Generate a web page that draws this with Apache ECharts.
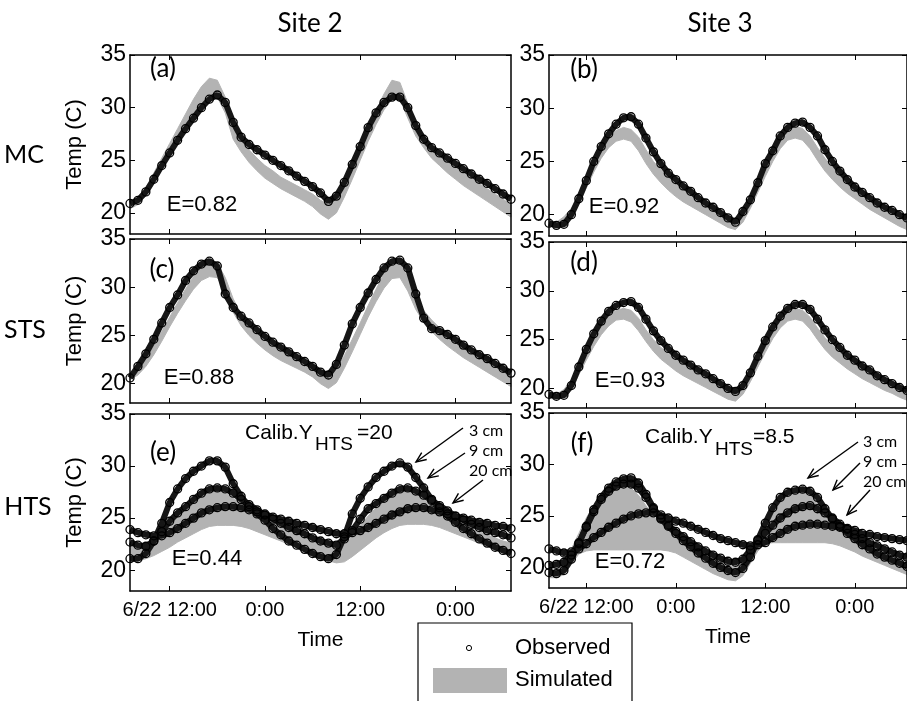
<!DOCTYPE html>
<html>
<head>
<meta charset="utf-8">
<script src="https://cdn.jsdelivr.net/npm/echarts@6/dist/echarts.min.js"></script>
<style>
  html, body { margin: 0; padding: 0; background: #fff; }
  #chart { width: 907px; height: 701px; }
</style>
</head>
<body>
<div id="chart"></div>
<script>
// hours since 6/22 0:00
const hours = [7, 8, 9, 10, 11, 12, 13, 14, 15, 16, 17, 18, 19, 20, 21, 22, 23, 24, 25, 26,
  27, 28, 29, 30, 31, 32, 33, 34, 35, 36, 37, 38, 39, 40, 41, 42, 43, 44, 45, 46,
  47, 48, 49, 50, 51, 52, 53, 54, 55]
const tickHours = [12, 24, 36, 48]
const tickLabels = ['6/22 12:00', '0:00', '12:00', '0:00']
const tempTicks = [20, 25, 30, 35]

// (a) MC, site 2
const mcSite2Obs = [20.9, 21.2, 22.0, 23.2, 24.5, 25.7, 26.9, 28.0, 29.0, 30.0, 30.8, 31.2, 30.5, 28.6, 27.2, 26.5, 26.0, 25.5, 25.0, 24.5,
  24.0, 23.5, 23.0, 22.5, 21.9, 21.1, 21.6, 22.9, 24.6, 26.3, 28.1, 29.5, 30.5, 31.0, 31.0, 30.0, 28.3, 27.0, 26.2, 25.7,
  25.2, 24.7, 24.2, 23.7, 23.2, 22.8, 22.3, 21.8, 21.3]
const mcSite2SimLo = [20.4, 20.8, 21.6, 22.8, 24.2, 25.6, 27.0, 28.3, 29.5, 30.5, 31.0, 31.0, 29.5, 27.0, 25.8, 24.8, 24.0, 23.3, 22.8, 22.3,
  21.9, 21.5, 21.1, 20.6, 19.9, 19.4, 20.0, 21.5, 23.2, 25.0, 26.8, 28.4, 29.8, 30.8, 30.8, 29.0, 27.3, 26.2, 25.2, 24.5,
  23.8, 23.2, 22.6, 22.1, 21.6, 21.1, 20.6, 20.1, 19.6]
const mcSite2SimHi = [21.0, 21.4, 22.4, 23.8, 25.2, 26.6, 28.0, 29.4, 30.8, 32.0, 32.8, 32.6, 31.0, 28.5, 27.0, 26.0, 25.2, 24.5, 24.0, 23.4,
  23.0, 22.6, 22.2, 21.8, 21.2, 20.8, 21.4, 22.8, 24.5, 26.2, 28.0, 29.7, 31.3, 32.6, 32.4, 30.4, 28.6, 27.4, 26.4, 25.6,
  24.9, 24.4, 23.8, 23.3, 22.8, 22.3, 21.8, 21.3, 20.8]

// (b) MC, site 3
const mcSite3Obs = [19.2, 19.0, 19.1, 20.0, 21.5, 23.2, 25.0, 26.4, 27.6, 28.5, 29.1, 29.2, 28.5, 27.2, 25.9, 24.8, 23.9, 23.3, 22.7, 22.2,
  21.6, 21.1, 20.7, 20.2, 19.7, 19.3, 20.3, 21.4, 23.0, 24.8, 26.0, 27.4, 28.2, 28.6, 28.7, 28.2, 27.4, 26.1, 25.0, 24.1,
  23.3, 22.6, 22.1, 21.6, 21.1, 20.7, 20.4, 20.0, 19.7]
const mcSite3SimLo = [18.9, 18.8, 19.0, 19.7, 21.0, 22.5, 24.0, 25.3, 26.3, 26.9, 27.1, 26.9, 26.0, 24.8, 23.8, 23.0, 22.3, 21.7, 21.2, 20.8,
  20.4, 20.0, 19.6, 19.2, 18.8, 18.6, 19.3, 20.6, 22.1, 23.6, 25.0, 26.2, 27.0, 27.2, 27.0, 26.2, 25.1, 24.1, 23.3, 22.6,
  22.0, 21.5, 21.0, 20.5, 20.1, 19.7, 19.3, 18.9, 18.6]
const mcSite3SimHi = [19.5, 19.3, 19.8, 20.6, 22.0, 23.5, 25.0, 26.3, 27.3, 27.9, 28.2, 28.0, 27.3, 26.1, 25.0, 24.2, 23.5, 22.9, 22.3, 21.9,
  21.4, 21.0, 20.6, 20.2, 19.8, 19.5, 20.3, 21.6, 23.1, 24.7, 26.1, 27.3, 28.0, 28.3, 28.1, 27.4, 26.3, 25.3, 24.5, 23.8,
  23.2, 22.6, 22.1, 21.6, 21.2, 20.8, 20.4, 20.0, 19.7]

// (c) STS, site 2
const stsSite2Obs = [20.6, 21.8, 23.1, 24.6, 26.3, 27.9, 29.2, 30.7, 31.7, 32.4, 32.7, 32.2, 29.3, 27.9, 27.0, 26.3, 25.6, 24.9, 24.3, 23.8,
  23.3, 22.8, 22.3, 21.8, 21.2, 20.9, 22.0, 24.0, 26.2, 27.9, 29.4, 30.8, 32.0, 32.7, 32.8, 32.0, 29.3, 26.8, 25.7, 25.5,
  25.1, 24.6, 24.0, 23.5, 23.0, 22.6, 22.1, 21.6, 21.1]
const stsSite2SimLo = [20.4, 20.9, 21.8, 23.0, 24.4, 25.9, 27.3, 28.6, 29.8, 30.7, 31.1, 31.0, 29.6, 27.4, 26.0, 25.0, 24.2, 23.5, 22.9, 22.4,
  22.0, 21.6, 21.2, 20.7, 20.0, 19.5, 20.1, 21.6, 23.3, 25.1, 26.9, 28.5, 29.9, 30.9, 31.0, 29.6, 27.7, 26.4, 25.4, 24.6,
  23.9, 23.3, 22.7, 22.2, 21.7, 21.2, 20.7, 20.2, 19.7]
const stsSite2SimHi = [21.0, 21.6, 22.6, 23.9, 25.4, 26.9, 28.4, 29.8, 31.1, 32.2, 32.7, 32.5, 31.0, 28.8, 27.2, 26.2, 25.4, 24.7, 24.1, 23.6,
  23.1, 22.7, 22.3, 21.9, 21.3, 20.8, 21.4, 22.9, 24.6, 26.3, 28.1, 29.8, 31.4, 32.6, 32.6, 31.0, 29.0, 27.6, 26.6, 25.8,
  25.1, 24.5, 23.9, 23.4, 22.9, 22.4, 21.9, 21.4, 20.9]

// (d) STS, site 3
const stsSite3Obs = [19.4, 19.2, 19.3, 20.3, 22.2, 24.0, 25.6, 26.9, 27.9, 28.5, 28.8, 28.9, 28.3, 27.1, 25.9, 24.9, 24.1, 23.4, 22.9, 22.4,
  21.9, 21.5, 21.0, 20.5, 20.0, 19.7, 20.3, 21.6, 23.3, 24.9, 26.3, 27.4, 28.2, 28.6, 28.6, 28.1, 27.1, 26.0, 25.0, 24.2,
  23.4, 22.9, 22.3, 21.9, 21.3, 20.9, 20.5, 20.1, 19.8]
const stsSite3SimLo = [19.0, 18.9, 19.1, 19.9, 21.4, 22.9, 24.3, 25.5, 26.4, 27.0, 27.1, 26.8, 25.9, 24.8, 23.8, 23.0, 22.4, 21.8, 21.3, 20.9,
  20.5, 20.1, 19.7, 19.3, 18.9, 18.7, 19.4, 20.7, 22.2, 23.7, 25.1, 26.2, 26.9, 27.1, 26.9, 26.1, 25.0, 24.0, 23.2, 22.6,
  22.0, 21.5, 21.0, 20.6, 20.2, 19.8, 19.5, 19.1, 18.8]
const stsSite3SimHi = [19.6, 19.4, 19.9, 20.9, 22.4, 23.9, 25.3, 26.5, 27.4, 28.0, 28.2, 28.0, 27.2, 26.0, 25.0, 24.2, 23.6, 23.0, 22.5, 22.0,
  21.6, 21.2, 20.8, 20.4, 20.0, 19.7, 20.4, 21.7, 23.2, 24.7, 26.1, 27.3, 28.0, 28.2, 28.0, 27.3, 26.2, 25.2, 24.4, 23.8,
  23.2, 22.7, 22.2, 21.8, 21.4, 21.0, 20.6, 20.3, 20.0]

// (e) HTS, site 2 (3, 9, 20 cm)
const htsSite2Obs3 = [21.1, 21.1, 21.6, 22.8, 24.5, 26.5, 27.8, 28.8, 29.5, 30.0, 30.5, 30.5, 29.9, 28.3, 27.1, 26.1, 25.4, 24.8, 24.0, 23.4,
  22.8, 22.4, 22.0, 21.6, 21.3, 21.1, 21.5, 23.2, 25.4, 26.9, 28.0, 28.9, 29.5, 30.0, 30.3, 29.9, 28.9, 27.9, 26.8, 26.0,
  25.2, 24.6, 24.0, 23.5, 23.0, 22.6, 22.2, 21.9, 21.6]
const htsSite2Obs9 = [22.7, 22.4, 22.3, 22.8, 23.7, 24.7, 25.5, 26.1, 26.8, 27.4, 27.8, 27.9, 27.8, 27.4, 26.8, 26.3, 25.8, 25.3, 24.9, 24.5,
  24.1, 23.8, 23.5, 23.1, 22.8, 22.6, 22.4, 23.0, 23.8, 24.9, 25.9, 26.4, 26.9, 27.4, 27.8, 27.9, 27.6, 27.2, 26.7, 26.2,
  25.7, 25.2, 24.8, 24.4, 24.1, 23.8, 23.6, 23.4, 23.1]
const htsSite2Obs20 = [23.9, 23.6, 23.4, 23.3, 23.3, 23.6, 24.0, 24.5, 25.0, 25.5, 25.8, 26.0, 26.1, 26.1, 26.0, 25.8, 25.6, 25.4, 25.1, 24.9,
  24.7, 24.5, 24.3, 24.1, 23.9, 23.7, 23.5, 23.5, 23.6, 23.8, 24.1, 24.5, 24.9, 25.3, 25.6, 25.9, 26.0, 26.0, 25.8, 25.6,
  25.4, 25.2, 25.0, 24.8, 24.6, 24.5, 24.3, 24.2, 24.0]
const htsSite2SimLo = [20.8, 20.9, 21.1, 21.4, 21.8, 22.2, 22.7, 23.1, 23.5, 23.9, 24.2, 24.3, 24.3, 24.3, 24.2, 24.0, 23.7, 23.4, 23.1, 22.8,
  22.5, 22.2, 21.9, 21.6, 21.2, 20.9, 20.7, 20.8, 21.3, 21.9, 22.5, 23.1, 23.6, 24.0, 24.3, 24.4, 24.4, 24.4, 24.3, 24.1,
  23.8, 23.5, 23.2, 22.9, 22.6, 22.3, 22.0, 21.7, 21.5]
const htsSite2SimHi = [22.4, 22.3, 22.5, 23.0, 23.7, 24.5, 25.3, 26.0, 26.6, 27.1, 27.5, 27.6, 27.4, 26.9, 26.4, 25.9, 25.4, 25.0, 24.6, 24.2,
  23.8, 23.5, 23.2, 22.9, 22.6, 22.3, 22.2, 22.5, 23.3, 24.3, 25.2, 26.0, 26.7, 27.2, 27.5, 27.6, 27.3, 26.8, 26.2, 25.7,
  25.2, 24.8, 24.4, 24.0, 23.7, 23.4, 23.1, 22.8, 22.6]

// (f) HTS, site 3 (3, 9, 20 cm)
const htsSite3Obs3 = [19.5, 19.4, 19.7, 20.8, 22.3, 24.0, 25.6, 26.8, 27.7, 28.3, 28.6, 28.7, 28.2, 27.1, 25.8, 24.7, 24.0, 23.3, 22.6, 22.0,
  21.4, 20.9, 20.4, 20.0, 19.7, 19.5, 19.9, 21.0, 22.7, 24.3, 25.8, 26.8, 27.3, 27.5, 27.6, 27.4, 26.8, 25.7, 24.7, 24.0,
  23.3, 22.8, 22.2, 21.8, 21.3, 21.0, 20.7, 20.4, 20.1]
const htsSite3Obs9 = [20.2, 20.3, 20.5, 21.2, 22.4, 23.9, 25.4, 26.6, 27.4, 27.9, 28.1, 28.1, 27.7, 26.8, 25.7, 24.8, 24.1, 23.5, 23.0, 22.5,
  22.0, 21.6, 21.2, 20.9, 20.6, 20.5, 20.8, 21.7, 22.6, 23.3, 24.1, 24.8, 25.3, 25.7, 25.9, 26.0, 25.7, 25.3, 24.8, 24.2,
  23.7, 23.2, 22.8, 22.4, 22.1, 21.8, 21.5, 21.2, 21.0]
const htsSite3Obs20 = [21.8, 21.6, 21.4, 21.5, 21.8, 22.3, 22.9, 23.4, 23.9, 24.3, 24.7, 25.0, 25.2, 25.3, 25.3, 25.1, 24.8, 24.5, 24.3, 24.0,
  23.7, 23.4, 23.1, 22.8, 22.6, 22.4, 22.2, 22.1, 22.2, 22.4, 22.9, 23.3, 23.7, 24.0, 24.1, 24.2, 24.2, 24.1, 24.0, 23.9,
  23.8, 23.6, 23.3, 23.2, 23.0, 22.9, 22.8, 22.7, 22.6]
const htsSite3SimLo = [19.0, 19.0, 19.3, 20.3, 21.3, 21.6, 21.7, 21.7, 21.7, 21.7, 21.7, 21.7, 21.7, 21.7, 21.7, 21.7, 21.6, 21.4, 21.0, 20.6,
  20.2, 19.8, 19.4, 19.1, 18.8, 18.7, 19.2, 20.4, 21.6, 22.3, 22.4, 22.4, 22.4, 22.4, 22.4, 22.4, 22.4, 22.4, 22.3, 22.1,
  21.8, 21.5, 21.1, 20.8, 20.5, 20.2, 19.9, 19.6, 19.3]
const htsSite3SimHi = [20.0, 20.0, 20.6, 21.8, 23.3, 24.8, 26.0, 26.9, 27.5, 27.8, 27.9, 27.7, 27.0, 26.0, 25.0, 24.2, 23.6, 23.1, 22.6, 22.2,
  21.8, 21.4, 21.0, 20.6, 20.3, 20.1, 20.6, 21.8, 23.2, 24.5, 25.6, 26.4, 26.9, 27.2, 27.3, 27.0, 26.3, 25.4, 24.6, 24.0,
  23.4, 22.9, 22.5, 22.1, 21.8, 21.5, 21.2, 20.9, 20.6]

const panels = [
  { box: { left: 130, top: 55, width: 381, height: 179 }, obs: [mcSite2Obs], lo: mcSite2SimLo, hi: mcSite2SimHi, bottom: false, yName: true },
  { box: { left: 549, top: 55, width: 359, height: 181 }, obs: [mcSite3Obs], lo: mcSite3SimLo, hi: mcSite3SimHi, bottom: false, yName: false },
  { box: { left: 130, top: 239, width: 381, height: 164 }, obs: [stsSite2Obs], lo: stsSite2SimLo, hi: stsSite2SimHi, bottom: false, yName: true },
  { box: { left: 549, top: 242, width: 359, height: 166 }, obs: [stsSite3Obs], lo: stsSite3SimLo, hi: stsSite3SimHi, bottom: false, yName: false },
  { box: { left: 130, top: 414, width: 381, height: 177 }, obs: [htsSite2Obs3, htsSite2Obs9, htsSite2Obs20], lo: htsSite2SimLo, hi: htsSite2SimHi, bottom: true, yName: true },
  { box: { left: 549, top: 413, width: 359, height: 175 }, obs: [htsSite3Obs3, htsSite3Obs9, htsSite3Obs20], lo: htsSite3SimLo, hi: htsSite3SimHi, bottom: true, yName: false }
]

const ARIAL = '"Liberation Sans", Arial, sans-serif'
const CALIBRI = 'Lato, "Open Sans", sans-serif'
const pairs = arr => hours.map((h, i) => [h, arr[i]])

const grid = [], xAxis = [], yAxis = [], series = []
const frame = { show: true, onZero: false, lineStyle: { color: '#000', width: 1.5 } }

panels.forEach((p, i) => {
  grid.push(p.box)
  // bottom + top time axes
  xAxis.push({
    gridIndex: i, type: 'value', min: 7, max: 55, position: 'bottom', z: 5,
    axisLine: frame,
    axisTick: { inside: true, length: 5, customValues: tickHours, lineStyle: { color: '#000' } },
    axisLabel: {
      show: p.bottom, customValues: tickHours, margin: 9,
      formatter: v => tickLabels[tickHours.indexOf(v)],
      color: '#000', fontSize: 20, fontFamily: ARIAL
    },
    splitLine: { show: false },
    name: p.bottom ? 'Time' : '', nameLocation: 'middle', nameGap: 39,
    nameTextStyle: { color: '#000', fontSize: 21, fontFamily: ARIAL }
  })
  xAxis.push({
    gridIndex: i, type: 'value', min: 7, max: 55, position: 'top', z: 5,
    axisLine: frame,
    axisTick: { inside: true, length: 5, customValues: tickHours, lineStyle: { color: '#000' } },
    axisLabel: { show: false }, splitLine: { show: false }
  })
  // left + right temperature axes
  yAxis.push({
    gridIndex: i, type: 'value', min: 18, max: 35, position: 'left', z: 5,
    axisLine: frame,
    axisTick: { inside: true, length: 5, customValues: tempTicks, lineStyle: { color: '#000' } },
    axisLabel: { customValues: tempTicks, margin: 4, color: '#000', fontSize: 23, fontFamily: ARIAL },
    splitLine: { show: false },
    name: p.yName ? 'Temp (C)' : '', nameLocation: 'middle', nameRotate: 90, nameGap: 44,
    nameTextStyle: { color: '#000', fontSize: 22, fontFamily: ARIAL }
  })
  yAxis.push({
    gridIndex: i, type: 'value', min: 18, max: 35, position: 'right', z: 5,
    axisLine: frame,
    axisTick: { inside: true, length: 5, customValues: tempTicks, lineStyle: { color: '#000' } },
    axisLabel: { show: false }, splitLine: { show: false }
  })

  // simulated band: polygon between lower and upper envelope
  series.push({
    type: 'custom', xAxisIndex: 2 * i, yAxisIndex: 2 * i, silent: true, z: 1,
    data: hours.map((h, k) => [h, p.lo[k], p.hi[k]]),
    encode: { x: 0, y: [1, 2] },
    renderItem: (params, api) => {
      if (params.dataIndex !== 0) return null
      const pts = []
      hours.forEach((h, k) => pts.push(api.coord([h, p.hi[k]])))
      for (let k = hours.length - 1; k >= 0; k--) pts.push(api.coord([hours[k], p.lo[k]]))
      return { type: 'polygon', shape: { points: pts }, style: { fill: '#b3b3b3', stroke: '#b3b3b3', lineWidth: 1 } }
    }
  })
  // observed circles
  p.obs.forEach(arr => {
    series.push({
      type: 'line', xAxisIndex: 2 * i, yAxisIndex: 2 * i,
      data: pairs(arr), symbol: 'circle', symbolSize: 8, showAllSymbol: true,
      lineStyle: { color: '#161616', width: 6 },
      itemStyle: { color: 'rgba(0,0,0,0)', borderColor: '#000', borderWidth: 1.3 },
      silent: true, z: 3
    })
  })
})

function txt(text, x, y, font, align) {
  return {
    type: 'text', x, y, z: 100, silent: true,
    style: { text, font, fill: '#000', align: align || 'center', verticalAlign: 'middle',
      textAlign: align || 'center', textVerticalAlign: 'middle' }
  }
}

function arrow(x1, y1, x2, y2) {
  const a = Math.atan2(y2 - y1, x2 - x1), len = 11, s = 0.4
  const h1 = [x2 - len * Math.cos(a - s), y2 - len * Math.sin(a - s)]
  const h2 = [x2 - len * Math.cos(a + s), y2 - len * Math.sin(a + s)]
  return [
    { type: 'line', z: 100, silent: true, shape: { x1, y1, x2, y2 }, style: { stroke: '#000', lineWidth: 1.4 } },
    { type: 'polyline', z: 100, silent: true, shape: { points: [h1, [x2, y2], h2] }, style: { stroke: '#000', lineWidth: 1.4, fill: null } }
  ]
}

const graphic = [
  txt('Site 2', 310, 24, '26px ' + CALIBRI),
  txt('Site 3', 720, 24, '26px ' + CALIBRI),
  txt('MC', 24, 155, '25px ' + CALIBRI),
  txt('STS', 25, 330, '25px ' + CALIBRI),
  txt('HTS', 28, 507, '25px ' + CALIBRI),
  txt('(a)', 163, 69, '26px ' + CALIBRI),
  txt('(b)', 584, 70, '26px ' + CALIBRI),
  txt('(c)', 162, 270, '26px ' + CALIBRI),
  txt('(d)', 584, 263, '26px ' + CALIBRI),
  txt('(e)', 163, 453, '26px ' + CALIBRI),
  txt('(f)', 582, 444, '26px ' + CALIBRI),
  txt('E=0.82', 202, 205, '22px ' + ARIAL),
  txt('E=0.92', 624, 207, '22px ' + ARIAL),
  txt('E=0.88', 199, 378, '22px ' + ARIAL),
  txt('E=0.93', 630, 381, '22px ' + ARIAL),
  txt('E=0.44', 207, 559, '22px ' + ARIAL),
  txt('E=0.72', 630, 562, '22px ' + ARIAL),
  txt('Calib.Y', 245, 433, '21px ' + ARIAL, 'left'),
  txt('HTS', 315, 445, '19px ' + ARIAL, 'left'),
  txt('=20', 357, 433, '21px ' + ARIAL, 'left'),
  txt('Calib.Y', 645, 437, '21px ' + ARIAL, 'left'),
  txt('HTS', 715, 450, '19px ' + ARIAL, 'left'),
  txt('=8.5', 753, 437, '21px ' + ARIAL, 'left'),
  txt('3 cm', 469, 431, '16px ' + CALIBRI, 'left'),
  txt('9 cm', 469, 451, '16px ' + CALIBRI, 'left'),
  txt('20 cm', 469, 471, '16px ' + CALIBRI, 'left'),
  txt('3 cm', 863, 442, '16px ' + CALIBRI, 'left'),
  txt('9 cm', 863, 462, '16px ' + CALIBRI, 'left'),
  txt('20 cm', 863, 482, '16px ' + CALIBRI, 'left'),
  ...arrow(463, 428, 416, 462),
  ...arrow(465, 453, 428, 478),
  ...arrow(483, 480, 453, 503),
  ...arrow(858, 442, 808, 478),
  ...arrow(860, 463, 833, 490),
  ...arrow(870, 490, 847, 515),
  // legend box
  { type: 'rect', z: 100, silent: true, shape: { x: 418, y: 623, width: 214, height: 100 },
    style: { fill: '#fff', stroke: '#000', lineWidth: 1.2 } },
  { type: 'circle', z: 101, silent: true, shape: { cx: 469, cy: 648, r: 2.6 },
    style: { fill: '#fff', stroke: '#000', lineWidth: 1 } },
  txt('Observed', 515, 648, '22px ' + ARIAL, 'left'),
  { type: 'rect', z: 101, silent: true, shape: { x: 433, y: 668, width: 74, height: 25 },
    style: { fill: '#b3b3b3' } },
  txt('Simulated', 515, 680, '22px ' + ARIAL, 'left')
]

const chart = echarts.init(document.getElementById('chart'))
chart.setOption({
  animation: false,
  backgroundColor: '#fff',
  grid, xAxis, yAxis, series, graphic
})
</script>
</body>
</html>
